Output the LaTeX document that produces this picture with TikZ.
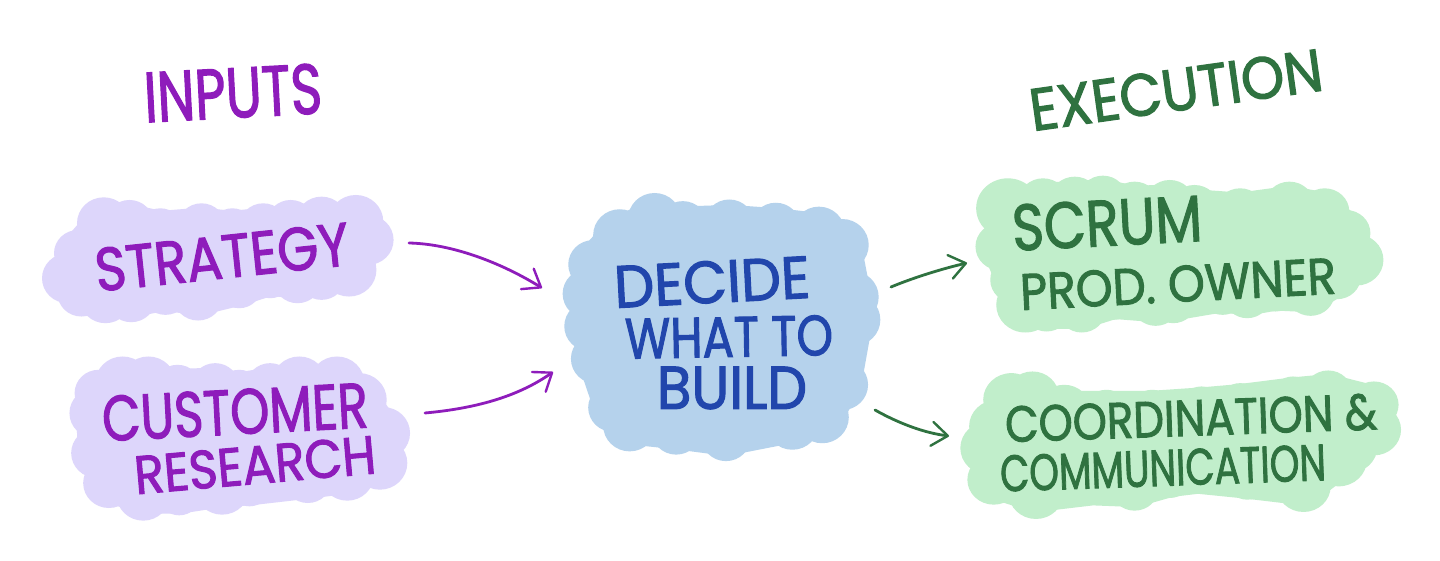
\documentclass[tikz,border=0pt]{standalone}
\usepackage{fontspec}
\setmainfont{Poppins}[FakeBold=2,AutoFakeBold=2]
\usetikzlibrary{arrows.meta}
\definecolor{lav}{HTML}{DDD6FB}
\definecolor{sky}{HTML}{B5D2EC}
\definecolor{mint}{HTML}{C1EECB}
\definecolor{purp}{HTML}{8E1CBB}
\definecolor{navy}{HTML}{2146AC}
\definecolor{forest}{HTML}{2F7240}
\newcommand{\blobshape}[2]{%
  \filldraw[#1,line width=38pt,line join=round] (0,0) \foreach \x/\y/\r [count=\i] in {#2}{ \ifnum\i=1 (\x,\y) \else -- (\x,\y) \fi } -- cycle;
  \fill[#1] \foreach \x/\y/\r in {#2}{ (\x,\y) circle[radius=\r] };
}
\newcommand{\hand}[3]{\resizebox{#1pt}{#2pt}{\bfseries #3}}
\tikzset{
  lbl/.style={inner sep=0pt,outer sep=0pt,anchor=center},
  purplelbl/.style={lbl,text=purp},
  navylbl/.style={lbl,text=navy},
  greenlbl/.style={lbl,text=forest},
  linkarrow/.style={line width=2.8pt,line cap=round,-{Straight Barb[length=16pt,width=24pt,line width=2.4pt,round]}}
}
\begin{document}
\begin{tikzpicture}[x=1pt,y=-1pt]
\useasboundingbox (0,0) rectangle (1440,561);
\fill[white] (0,0) rectangle (1440,561);
\begin{scope}[shift={(30,180)},xscale=.343,yscale=.333]
\blobshape{lav}{215/130/78,290/130/70,380/150/65,500/140/70,590/150/65,680/140/70,760/130/70,850/125/75,950/125/80,985/180/75,930/270/80,850/290/70,780/300/70,700/290/65,610/320/65,490/350/72,395/335/70,295/355/72,220/355/75,150/340/70,110/295/75,140/220/70}
\blobshape{lav}{270/610/80,345/610/80,430/625/70,540/620/70,610/635/65,700/620/70,785/610/80,895/610/80,960/660/80,1030/760/78,1020/850/80,925/885/78,810/900/70,640/920/60,560/925/80,435/945/62,330/945/78,230/910/75,195/820/75,190/700/75,200/640/70}
\end{scope}
\begin{scope}[shift={(550,180)},xscale=.332,yscale=.325]
\blobshape{sky}{315/120/80,210/170/80,130/260/75,115/350/77,120/450/77,140/550/77,190/700/75,240/755/80,380/770/75,530/790/75,730/750/80,820/730/80,880/630/78,915/430/80,910/360/80,880/200/80,810/160/78,680/145/75,540/135/75,400/140/75}
\end{scope}
\begin{scope}[shift={(860,170)},xscale=.352,yscale=.333]
\blobshape{mint}{420/115/90,520/95/70,610/90/70,690/85/68,780/105/70,880/100/70,950/115/70,1080/125/70,1220/105/70,1320/125/70,1380/190/70,1410/270/77,1355/320/68,1280/370/68,1180/365/60,1100/380/65,1030/370/65,890/395/65,840/400/68,720/390/60,630/420/68,530/420/65,470/405/83,440/330/70,400/230/72}
\blobshape{mint}{490/680/75,430/690/80,390/770/80,365/835/80,380/930/75,500/970/78,660/950/55,780/955/68,880/925/60,960/915/55,1100/930/60,1260/950/77,1360/870/80,1390/830/80,1460/780/77,1460/705/70,1330/670/68,1230/680/60,1080/700/60,970/710/60,830/720/60,700/720/60,580/720/75}
\end{scope}
\node[purplelbl,rotate=3] (inputs) at (233,93) {\hand{178}{50}{INPUTS}};
\node[greenlbl,rotate=8] (execution) at (1176,90) {\hand{295}{42}{EXECUTION}};
\node[purplelbl,rotate=6] (strategy) at (222,257) {\hand{255}{43}{STRATEGY}};
\node[purplelbl,rotate=3] (customer) at (235,412) {\hand{266}{45}{CUSTOMER}};
\node[purplelbl,rotate=5] (research) at (255,465) {\hand{242}{38}{RESEARCH}};
\node[navylbl,rotate=3] (decide) at (712,282) {\hand{196}{42}{DECIDE}};
\node[navylbl,rotate=1] (what) at (729,337) {\hand{208}{40}{WHAT TO}};
\node[navylbl] (build) at (732,388) {\hand{150}{42}{BUILD}};
\node[greenlbl,rotate=3] (scrum) at (1107,223) {\hand{190}{46}{SCRUM}};
\node[greenlbl,rotate=3] (owner) at (1178,284) {\hand{316}{36}{PROD. OWNER}};
\node[greenlbl,rotate=2] (coord) at (1191,418) {\hand{372}{36}{COORDINATION \&}};
\node[greenlbl,rotate=2] (comm) at (1163,468) {\hand{326}{36}{COMMUNICATION}};
\coordinate (s1) at (409,243); \coordinate (t1) at (542,288);
\coordinate (s2) at (425,413); \coordinate (t2) at (553,372);
\coordinate (s3) at (891,287); \coordinate (t3) at (967,263);
\coordinate (s4) at (875,410); \coordinate (t4) at (949,436);
\draw[linkarrow,purp] (s1) .. controls (455,244) and (505,265) .. (t1);
\draw[linkarrow,purp] (s2) .. controls (480,408) and (520,395) .. (t2);
\draw[linkarrow,forest] (s3) .. controls (915,277) and (945,268) .. (t3);
\draw[linkarrow,forest] (s4) .. controls (900,424) and (925,433) .. (t4);
\end{tikzpicture}
\end{document}
